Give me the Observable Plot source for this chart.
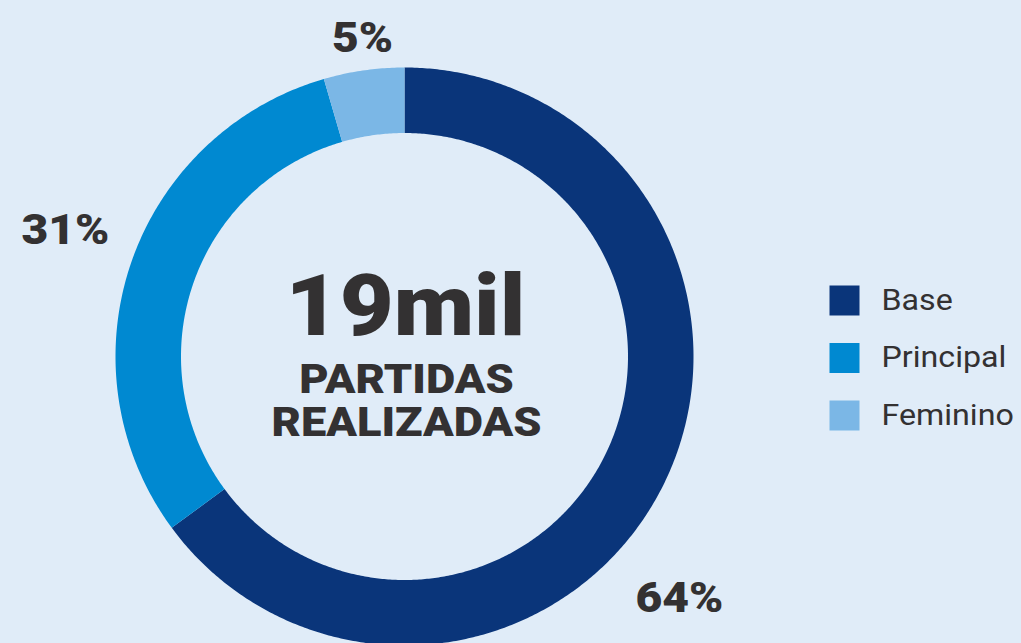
<!DOCTYPE html>
<html>
<head>
<meta charset="utf-8">
<script src="https://cdn.jsdelivr.net/npm/d3@7"></script>
<script src="https://cdn.jsdelivr.net/npm/@observablehq/plot@0.6"></script>
<style>
  html, body { margin: 0; padding: 0; background: #e0ecf8; overflow: hidden; }
  #chart { width: 1021px; height: 643px; }
  svg { display: block; }
</style>
</head>
<body>
<div id="chart"></div>
<script>
// ---- data ----
const categories = ["Base", "Principal", "Feminino"];
const shares = [64.9, 30.6, 4.5];           // arc shares (%)
const shareLabels = ["64%", "31%", "5%"];   // printed labels
const colors = ["#0a357a", "#0089d1", "#7bb7e6"];
const centerValue = "19mil";
const centerLines = ["PARTIDAS", "REALIZADAS"];

// ---- geometry helpers (chart units: outer radius = 1) ----
const W = 1021, H = 643;
const cx = 404, cy = 356, R = 289;          // pixel layout of the donut
const inner = 223.5 / 289;
const total = d3.sum(shares);

const slices = [];
let acc = 0;
categories.forEach((c, i) => {
  const a0 = acc / total * 2 * Math.PI;
  acc += shares[i];
  const a1 = acc / total * 2 * Math.PI;
  const n = Math.max(4, Math.ceil((a1 - a0) / (Math.PI / 360)));
  const pts = [];
  for (let k = 0; k <= n; k++) {
    const a = a0 + (a1 - a0) * k / n;
    pts.push({cat: c, x: Math.sin(a), y: Math.cos(a)});
  }
  for (let k = n; k >= 0; k--) {
    const a = a0 + (a1 - a0) * k / n;
    pts.push({cat: c, x: inner * Math.sin(a), y: inner * Math.cos(a)});
  }
  slices.push(...pts);
});

const toX = px => (px - cx) / R;
const toY = py => (cy - py) / R;

// label anchors (pixel layout converted to chart units)
const labelPx = [[679, 598], [65, 230], [362, 38]];
const labels = shareLabels.map((t, i) => ({text: t, x: toX(labelPx[i][0]), y: toY(labelPx[i][1])}));

const legend = categories.map((c, i) => ({cat: c, x: toX(844), y: toY(300 + i * 57.5), tx: toX(881)}));

const font = "Roboto, 'DejaVu Sans', sans-serif";
const ink = "#333132";

const plot = Plot.plot({
  width: W,
  height: H,
  margin: 0,
  style: {background: "#e0ecf8", fontFamily: font, overflow: "visible"},
  x: {domain: [toX(0), toX(W)], range: [0, W], axis: null},
  y: {domain: [toY(H), toY(0)], range: [H, 0], axis: null},
  color: {domain: categories, range: colors},
  marks: [
    Plot.line(slices, {x: "x", y: "y", z: "cat", fill: "cat", stroke: "none", curve: "linear"}),
    Plot.text(labels, {x: "x", y: "y", text: "text", fontSize: 42, fontWeight: 900, fill: ink, fontFamily: font}),
    Plot.text([centerValue], {x: toX(405), y: toY(307), text: d => d, fontSize: 86, fontWeight: 900, fill: ink, fontFamily: font}),
    Plot.text(centerLines, {x: toX(406), y: (d, i) => toY(379.5 + i * 43), text: d => d, fontSize: 40, fontWeight: 900, fill: ink, fontFamily: font}),
    Plot.dot(legend, {x: "x", y: "y", fill: "cat", symbol: "square", r: 16.93, stroke: "none"}),
    Plot.text(legend, {x: "tx", y: "y", text: "cat", textAnchor: "start", fontSize: 29, fill: ink, fontFamily: font})
  ]
});

// widen glyphs horizontally to match the reference's wide typeface
const textGroups = d3.select(plot).selectAll('g[aria-label="text"]').nodes();
function widen(g, k) {
  if (!g) return;
  d3.select(g).selectAll("text").each(function() {
    const t = d3.select(this);
    const tr = t.attr("transform") || "";
    t.attr("transform", `${tr} scale(${k},1)`);
  });
}
widen(textGroups[0], 1.1);
widen(textGroups[1], 1.085);
widen(textGroups[2], 1.13);
widen(textGroups[3], 1.11);
document.getElementById("chart").appendChild(plot);
</script>
</body>
</html>
